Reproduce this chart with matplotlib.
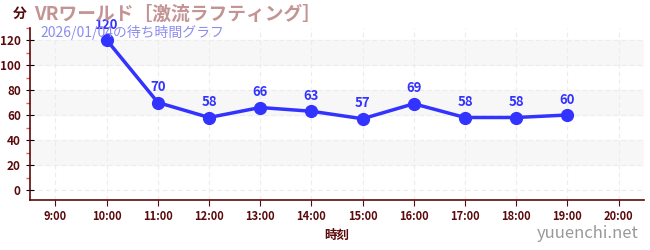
import matplotlib.pyplot as plt
from matplotlib.ticker import MultipleLocator

plt.rcParams['font.family'] = ['Noto Sans CJK JP', 'DejaVu Sans']

# data
hours = [10, 11, 12, 13, 14, 15, 16, 17, 18, 19]
waits = [120, 70, 58, 66, 63, 57, 69, 58, 58, 60]
tick_hours = list(range(9, 21))
tick_labels = [f'{h}:00' for h in tick_hours]

DARK = '#5a0a0a'
BLUE = '#3333ff'

fig = plt.figure(figsize=(6.5, 2.5), dpi=100)
ax = fig.add_axes([0.046, 0.2, 0.945, 0.69])

ax.set_xlim(8.5, 20.5)
ax.set_ylim(-8, 130)

# alternating bands
for lo in (20, 60, 100):
    ax.axhspan(lo, lo + 20, color='#f7f7f7', zorder=0)

for y in range(0, 121, 20):
    ax.axhline(y, color='#ececec', lw=0.8, ls=(0, (4, 3)), zorder=0.5)
for h in tick_hours:
    ax.axvline(h, color='#ececec', lw=0.8, ls=(0, (4, 3)), zorder=0.5)

ax.plot(hours, waits, color=BLUE, lw=2.5, marker='o', ms=8.5, zorder=3)
for h, w in zip(hours, waits):
    ax.annotate(str(w), (h, w), xytext=(0, 6), textcoords='offset points',
                ha='center', va='bottom', color=BLUE, fontsize=9.5,
                fontweight='bold', zorder=4)

ax.set_xticks(tick_hours)
ax.set_xticklabels(tick_labels)
ax.set_yticks(range(0, 121, 20))
ax.yaxis.set_minor_locator(MultipleLocator(10))
ax.tick_params(axis='x', colors=DARK, labelsize=8, length=4, width=0.8)
ax.tick_params(axis='y', which='major', colors='black', labelcolor=DARK,
               labelsize=8.5, direction='inout', length=6, width=0.8)
ax.tick_params(axis='y', which='minor', colors='#ee5555', length=3, width=1)
for lab in ax.get_xticklabels() + ax.get_yticklabels():
    lab.set_fontweight('bold')

for s in ('top', 'right'):
    ax.spines[s].set_visible(False)
for s in ('left', 'bottom'):
    ax.spines[s].set_color(DARK)
    ax.spines[s].set_linewidth(1.2)

ax.set_xlabel('時刻', color=DARK, fontsize=9, fontweight='bold', labelpad=4)

fig.text(0.031, 0.944, '分', color=DARK, fontsize=10, fontweight='bold',
         ha='center', va='center')
fig.text(0.053, 0.944, 'VRワールド［激流ラフティング］', color='#c49494',
         fontsize=13.5, fontweight='bold', ha='left', va='center')
fig.text(0.062, 0.872, '2026/01/04の待ち時間グラフ', color='#8c8cf0',
         fontsize=10, ha='left', va='center')
fig.text(0.982, 0.068, 'yuuenchi.net', color='#999999', fontsize=12,
         ha='right', va='center')

fig.savefig('out.png', dpi=100)
